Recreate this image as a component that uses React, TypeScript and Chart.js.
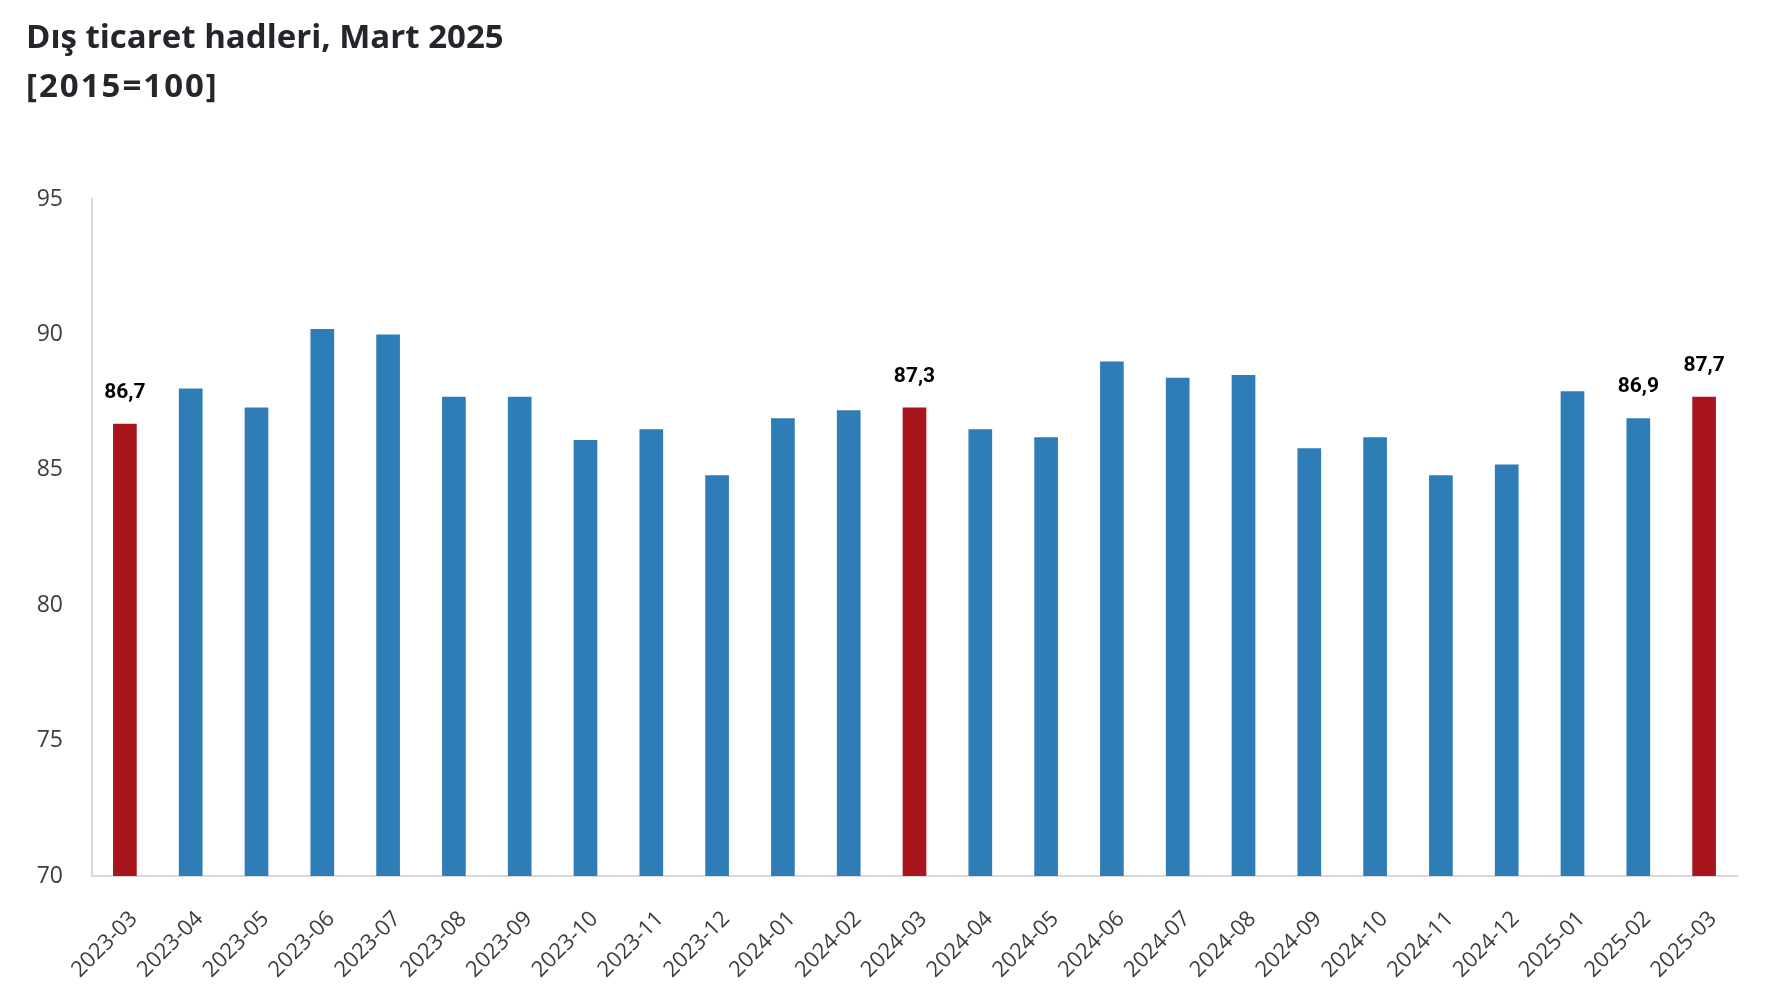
import React, { useEffect, useRef } from "react";
import { Chart, registerables } from "chart.js";

Chart.register(...registerables);

const categories = [
  "2023-03", "2023-04", "2023-05", "2023-06", "2023-07", "2023-08", "2023-09",
  "2023-10", "2023-11", "2023-12", "2024-01", "2024-02", "2024-03", "2024-04",
  "2024-05", "2024-06", "2024-07", "2024-08", "2024-09", "2024-10", "2024-11",
  "2024-12", "2025-01", "2025-02", "2025-03",
];
const values = [
  86.7, 88.0, 87.3, 90.2, 90.0, 87.7, 87.7, 86.1, 86.5, 84.8, 86.9, 87.2, 87.3,
  86.5, 86.2, 89.0, 88.4, 88.5, 85.8, 86.2, 84.8, 85.2, 87.9, 86.9, 87.7,
];
const highlighted = ["2023-03", "2024-03", "2025-03"];
const labelled = ["2023-03", "2024-03", "2025-02", "2025-03"];
const titleLines = ["Dış ticaret hadleri, Mart 2025", "[2015=100]"];
const yTicks = [70, 75, 80, 85, 90, 95];

const BLUE = "#2f7db7";
const RED = "#a9151c";

export default function App() {
  const ref = useRef<HTMLCanvasElement | null>(null);
  useEffect(() => {
    document.body.style.margin = "0";
    const canvas = ref.current;
    if (!canvas) return;

    const titlePlugin = {
      id: "customTitle",
      afterDraw(chart: any) {
        const ctx = chart.ctx;
        ctx.save();
        ctx.fillStyle = "#24262b";
        ctx.font = "bold 33px 'Open Sans'";
        ctx.textAlign = "left";
        ctx.textBaseline = "alphabetic";
        ctx.fillText(titleLines[0], 26, 48);
        (ctx as any).letterSpacing = "2px";
        ctx.fillText(titleLines[1], 26, 97);
        ctx.restore();
      },
    };

    const valueLabels = {
      id: "valueLabels",
      afterDatasetsDraw(chart: any) {
        const ctx = chart.ctx;
        const meta = chart.getDatasetMeta(0);
        ctx.save();
        ctx.fillStyle = "#000000";
        ctx.font = "bold 21px Roboto";
        ctx.textAlign = "center";
        ctx.textBaseline = "alphabetic";
        categories.forEach((c, i) => {
          if (!labelled.includes(c)) return;
          const el = meta.data[i];
          ctx.fillText(values[i].toFixed(1).replace(".", ","), el.x, el.y - 26);
        });
        ctx.restore();
      },
    };

    const chart = new Chart(canvas, {
      type: "bar",
      data: {
        labels: categories,
        datasets: [
          {
            data: values,
            backgroundColor: categories.map((c) => (highlighted.includes(c) ? RED : BLUE)),
            categoryPercentage: 1,
            barPercentage: 0.36,
          },
        ],
      },
      options: {
        animation: false,
        responsive: false,
        maintainAspectRatio: false,
        layout: { padding: { top: 199, right: 33, left: 0, bottom: 0 } },
        plugins: {
          legend: { display: false },
          tooltip: { enabled: false },
          title: { display: false },
        },
        scales: {
          x: {
            grid: { display: false, drawTicks: false },
            border: { display: true, color: "#d9d9d9", width: 2 },
            ticks: {
              minRotation: 45,
              maxRotation: 45,
              autoSkip: false,
              padding: 30,
              labelOffset: 9,
              color: "#3d3d3d",
              font: { family: "'Open Sans'", size: 22, weight: "500" },
            },
            afterFit(scale: any) {
              scale.height = 128;
            },
          },
          y: {
            min: 70,
            max: 95,
            afterBuildTicks(scale: any) {
              scale.ticks = yTicks.map((v) => ({ value: v }));
            },
            grid: { display: false, drawTicks: false },
            border: { display: true, color: "#d9d9d9", width: 2 },
            ticks: {
              padding: 29,
              color: "#3d3d3d",
              font: { family: "'Open Sans'", size: 23, weight: "500" },
            },
            afterFit(scale: any) {
              scale.width = 92;
            },
          },
        },
      },
      plugins: [titlePlugin, valueLabels],
    });
    return () => chart.destroy();
  }, []);

  return (
    <div style={{ position: "relative", width: 1770, height: 1004, background: "#ffffff" }}>
      <canvas ref={ref} width={1770} height={1004} style={{ display: "block" }} />
    </div>
  );
}
